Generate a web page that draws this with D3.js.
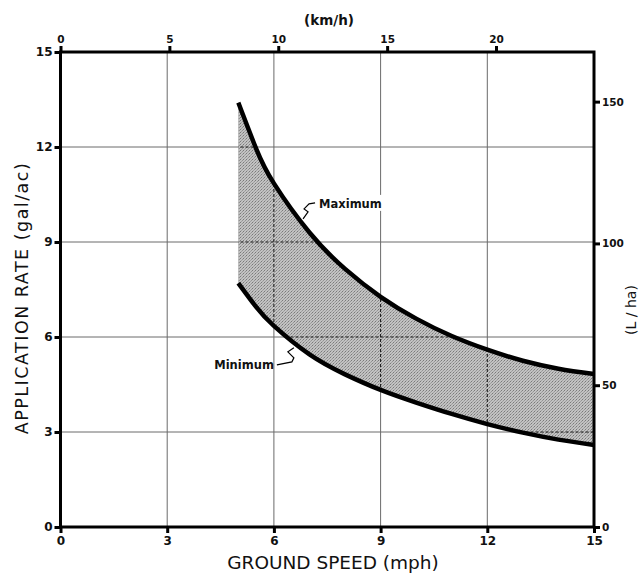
<!DOCTYPE html>
<html>
<head>
<meta charset="utf-8">
<script src="https://cdn.jsdelivr.net/npm/d3@7"></script>
<style>
  body { margin: 0; background: #fff; }
  text { font-family: "DejaVu Sans", sans-serif; fill: #111; }
</style>
</head>
<body>
<div id="chart"></div>
<script>
// values
const speedMph = [5, 5.5, 6, 7, 8, 9, 10, 11, 12, 13, 14, 15];
const maxRate  = [13.4, 11.95, 10.85, 9.3, 8.15, 7.27, 6.58, 6.03, 5.6, 5.25, 5.0, 4.83];
const minRate  = [7.7, 6.95, 6.35, 5.45, 4.82, 4.33, 3.93, 3.57, 3.25, 2.98, 2.76, 2.59];

const mphTicks = [0, 3, 6, 9, 12, 15];
const galTicks = [0, 3, 6, 9, 12, 15];
const kmhTicks = [0, 5, 10, 15, 20];
const lhaTicks = [0, 50, 100, 150];
const gridMph = [3, 6, 9, 12];
const gridGal = [3, 6, 9, 12];

const labels = [
  { text: "Maximum", mph: 6.82, rate: 9.73 },
  { text: "Minimum", mph: 6.59, rate: 5.72 }
];

const W = 639, H = 574;
let svg = d3.select("#chart").append("svg").attr("width", W).attr("height", H)

let x = d3.scaleLinear().domain([0, 15]).range([60.5, 594]);
let y = d3.scaleLinear().domain([0, 15]).range([527, 52]);
let xKmh = d3.scaleLinear().domain([0, 24.5]).range([60.5, 594]);
let yLha = d3.scaleLinear().domain([0, 167.5]).range([527, 52]);

// stipple for the band
let defs = svg.append("defs")
let pat = defs.append("pattern").attr("id", "stip").attr("width", 3).attr("height", 3)
  .attr("patternUnits", "userSpaceOnUse")
pat.append("rect").attr("width", 3).attr("height", 3).attr("fill", "#c2c2c2")
pat.append("rect").attr("x", 0).attr("y", 0).attr("width", 1).attr("height", 1).attr("fill", "#7a7a7a")
pat.append("rect").attr("x", 2).attr("y", 1).attr("width", 1).attr("height", 1).attr("fill", "#949494")
pat.append("rect").attr("x", 1).attr("y", 2).attr("width", 1).attr("height", 1).attr("fill", "#a0a0a0")

let band = speedMph.map((s, i) => ({ s: s, hi: maxRate[i], lo: minRate[i] }));

let area = d3.area().x(d => x(d.s)).y0(d => y(d.lo)).y1(d => y(d.hi)).curve(d3.curveNatural);
defs.append("clipPath").attr("id", "bandClip").append("path").attr("d", area(band))

// grid
let grid = svg.append("g")
function drawGrid(g, dash, col) {
  g.selectAll(".gv").data(gridMph).enter().append("line")
    .attr("x1", d => x(d)).attr("x2", d => x(d)).attr("y1", y(0)).attr("y2", y(15))
    .attr("stroke", col).attr("stroke-width", 1).attr("stroke-dasharray", dash)
  g.selectAll(".gh").data(gridGal).enter().append("line")
    .attr("x1", x(0)).attr("x2", x(15)).attr("y1", d => y(d)).attr("y2", d => y(d))
    .attr("stroke", col).attr("stroke-width", 1).attr("stroke-dasharray", dash)
}
drawGrid(grid, null, "#6a6a6a")

svg.append("path").attr("d", area(band)).attr("fill", "url(#stip)")

// dashed grid showing through the band
let gridIn = svg.append("g").attr("clip-path", "url(#bandClip)")
drawGrid(gridIn, "3,2", "#111")
// dotted left edge of the band
svg.append("line").attr("x1", x(speedMph[0]) + 0.5).attr("x2", x(speedMph[0]) + 0.5)
  .attr("y1", y(maxRate[0])).attr("y2", y(minRate[0]))
  .attr("stroke", "#888").attr("stroke-width", 1).attr("stroke-dasharray", "1,2")

// curves
let lineMax = d3.line().x(d => x(d.s)).y(d => y(d.hi)).curve(d3.curveNatural);
let lineMin = d3.line().x(d => x(d.s)).y(d => y(d.lo)).curve(d3.curveNatural);
svg.append("path").attr("d", lineMax(band)).attr("fill", "none").attr("stroke", "#000").attr("stroke-width", 4.5)
svg.append("path").attr("d", lineMin(band)).attr("fill", "none").attr("stroke", "#000").attr("stroke-width", 4.5)

// frame and axes
svg.append("rect").attr("x", x(0)).attr("y", y(15)).attr("width", x(15) - x(0)).attr("height", y(0) - y(15))
  .attr("fill", "none").attr("stroke", "#000").attr("stroke-width", 3)

function styleAxis(g, size) {
  g.select(".domain").remove()
  g.selectAll(".tick line").attr("stroke", "#000").attr("stroke-width", 3)
  g.selectAll(".tick text").style("font-size", size + "px").style("font-weight", "bold")
    .style("font-family", "DejaVu Sans, sans-serif").attr("fill", "#111")
}
let axB = svg.append("g").attr("transform", "translate(0," + y(0) + ")")
  .call(d3.axisBottom(x).tickValues(mphTicks).tickFormat(d3.format("d")).tickSize(6).tickPadding(3))
styleAxis(axB, 12)
let axL = svg.append("g").attr("transform", "translate(" + x(0) + ",0)")
  .call(d3.axisLeft(y).tickValues(galTicks).tickFormat(d3.format("d")).tickSize(6).tickPadding(2))
styleAxis(axL, 12)
let axT = svg.append("g").attr("transform", "translate(0," + y(15) + ")")
  .call(d3.axisTop(xKmh).tickValues(kmhTicks).tickFormat(d3.format("d")).tickSize(6).tickPadding(3))
styleAxis(axT, 10.5)
let axR = svg.append("g").attr("transform", "translate(" + x(15) + ",0)")
  .call(d3.axisRight(yLha).tickValues(lhaTicks).tickFormat(d3.format("d")).tickSize(6).tickPadding(2))
styleAxis(axR, 10.5)

// titles
svg.append("text").attr("x", 333).attr("y", 569).attr("text-anchor", "middle")
  .style("font-size", "18.5px").text("GROUND SPEED (mph)")
svg.append("text").attr("transform", "translate(28,298) rotate(-90)").attr("text-anchor", "middle")
  .style("font-size", "17.5px").style("letter-spacing", "1.5px").text("APPLICATION RATE (gal/ac)")
svg.append("text").attr("x", 329).attr("y", 25).attr("text-anchor", "middle")
  .style("font-size", "13.5px").style("font-weight", "bold").text("(km/h)")
svg.append("text").attr("transform", "translate(636,310) rotate(-90)").attr("text-anchor", "middle")
  .style("font-size", "14px").text("(L / ha)")

// curve labels with leaders
let lm = labels[0], ln = labels[1];
let ax = x(lm.mph), ay = y(lm.rate);
svg.append("rect").attr("x", ax + 12).attr("y", ay - 24).attr("width", 70).attr("height", 16).attr("fill", "#fff")
svg.append("text").attr("x", ax + 16).attr("y", ay - 11).style("font-size", "11.5px").style("font-weight", "bold")
  .text(lm.text)
svg.append("path").attr("fill", "none").attr("stroke", "#000").attr("stroke-width", 1.2)
  .attr("d", `M${ax},${ay} L${ax + 5},${ay - 7} L${ax + 1},${ay - 10} L${ax + 6},${ay - 15} L${ax + 12},${ay - 16}`)

let bx = x(ln.mph), by = y(ln.rate);
svg.append("text").attr("x", bx - 21).attr("y", by + 23).attr("text-anchor", "end")
  .style("font-size", "11.5px").style("font-weight", "bold").text(ln.text)
svg.append("path").attr("fill", "none").attr("stroke", "#000").attr("stroke-width", 1.2)
  .attr("d", `M${bx - 1},${by + 2} L${bx - 7},${by + 6} L${bx - 1},${by + 12} L${bx - 3},${by + 16} L${bx - 18},${by + 19}`)
</script>
</body>
</html>
